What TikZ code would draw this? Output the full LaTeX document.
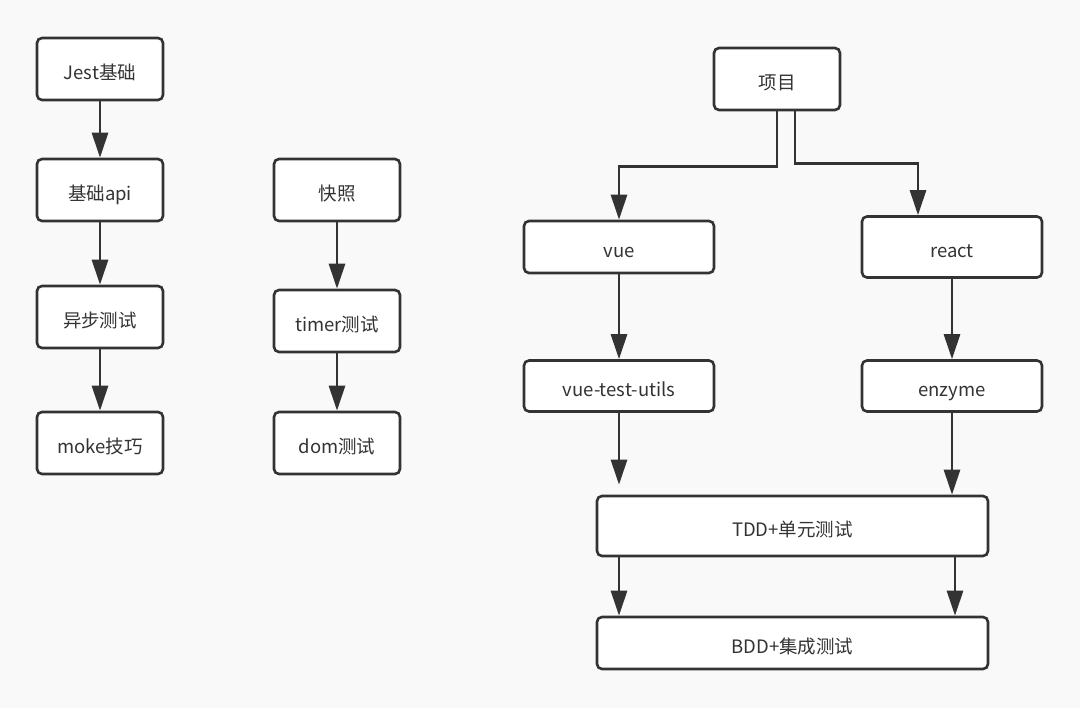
\documentclass[tikz,border=0pt]{standalone}
\usepackage{fontspec}
\setmainfont{Noto Sans CJK SC}
\usetikzlibrary{arrows.meta}
\definecolor{ln}{HTML}{333333}
\definecolor{bg}{HTML}{F9F9F9}
\tikzset{
  box/.style={draw=ln, fill=white, line width=2.6pt, rounded corners=5pt, inner sep=0pt,
    text=ln, font=\fontsize{18.5}{22}\selectfont, text height=21pt, text depth=0pt},
  sbox/.style={box, minimum width=126pt, minimum height=62pt},
  arr/.style={draw=ln, line width=2.8pt, -{Triangle[length=25pt,width=16pt]}},
}
\begin{document}
\begin{tikzpicture}[x=1pt,y=-1pt]
\fill[bg] (0,0) rectangle (1080,708);
\useasboundingbox (0,0) rectangle (1080,708);
% left column
\node[sbox] (jest) at (100,69) {Jest基础};
\node[sbox] (api) at (100,190) {基础api};
\node[sbox] (async) at (100,317) {异步测试};
\node[sbox] (moke) at (100,443) {moke技巧};
% middle column
\node[sbox] (snap) at (337,190) {快照};
\node[sbox] (timer) at (337,321) {timer测试};
\node[sbox] (dom) at (337,443) {dom测试};
% right
\node[sbox] (proj) at (777,79) {项目};
\node[box, minimum width=190pt, minimum height=52pt] (vue) at (619,247) {vue};
\node[box, minimum width=180pt, minimum height=61pt] (react) at (952,247) {react};
\node[box, minimum width=190pt, minimum height=51pt] (vtu) at (619,386) {vue-test-utils};
\node[box, minimum width=180pt, minimum height=51pt] (enz) at (952,386) {enzyme};
\node[box, minimum width=391pt, minimum height=60pt] (tdd) at (792.5,526) {TDD+单元测试};
\node[box, minimum width=391pt, minimum height=52pt] (bdd) at (792.5,643) {BDD+集成测试};
% connectors
\draw[arr] (jest) -- (api);
\draw[arr] (api) -- (async);
\draw[arr] (async) -- (moke);
\draw[arr] (snap) -- (timer);
\draw[arr] (timer) -- (dom);
\draw[arr, rounded corners=0pt] (proj.south) -- ++(0,55) -| (vue.north);
\draw[arr] ([xshift=18pt]proj.south) -- ++(0,52) -| ([xshift=-34pt]react.north);
\draw[arr] (vue) -- (vtu);
\draw[arr] (react) -- (enz);
\draw[arr, shorten >=10pt] (vtu.south) -- (vtu.south |- tdd.north);
\draw[arr] (enz.south) -- (enz.south |- tdd.north);
\draw[arr] (tdd.south -| vue.south) -- (bdd.north -| vue.south);
\draw[arr] ([xshift=3pt]tdd.south -| enz.south) -- ([xshift=3pt]bdd.north -| enz.south);
\end{tikzpicture}
\end{document}
